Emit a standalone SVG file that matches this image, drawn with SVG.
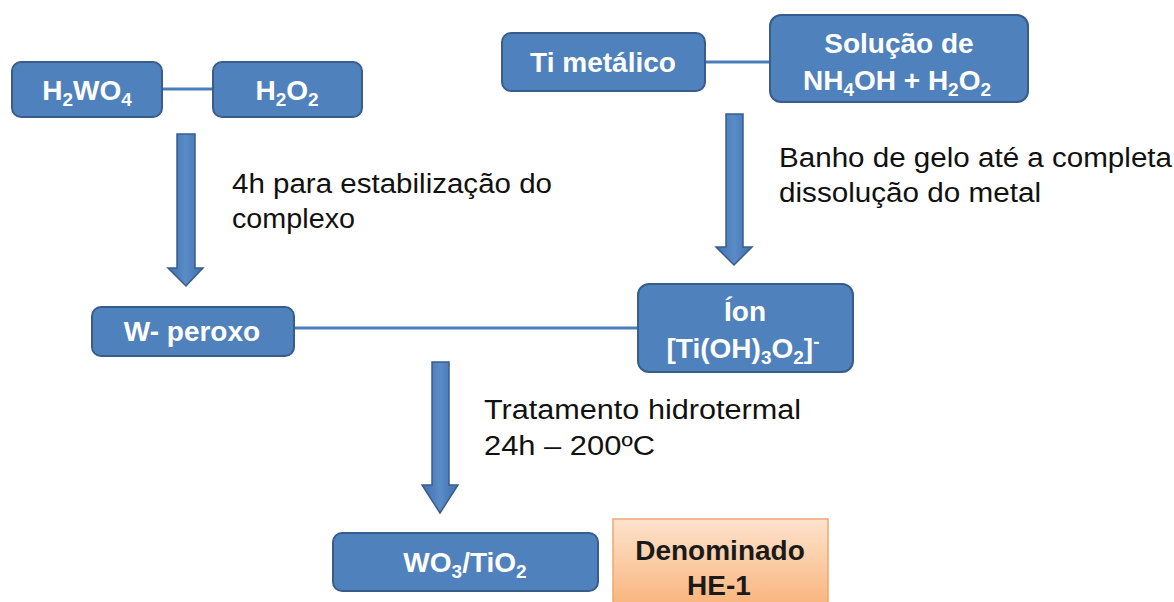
<svg xmlns="http://www.w3.org/2000/svg" width="1174" height="602" viewBox="0 0 1174 602">
<defs>
<linearGradient id="og" x1="0" y1="0" x2="0" y2="1">
<stop offset="0" stop-color="#fde3cd"/>
<stop offset="1" stop-color="#fab37a"/>
</linearGradient>
<linearGradient id="ag" x1="0" y1="0" x2="1" y2="0">
<stop offset="0" stop-color="#3f6fae"/>
<stop offset="0.5" stop-color="#5a8cc8"/>
<stop offset="1" stop-color="#3f6fae"/>
</linearGradient>
</defs>
<style>
.box{fill:#4f81bd;stroke:#385d8a;stroke-width:2}
.bt{font-family:"Liberation Sans",Arial,sans-serif;font-weight:bold;font-size:28px;fill:#ffffff;text-anchor:middle}
.dt{font-family:"Liberation Sans",Arial,sans-serif;font-weight:bold;font-size:28px;fill:#1a1a1a;text-anchor:middle}
.lt{font-family:"Liberation Sans",Arial,sans-serif;font-size:27px;fill:#111111}
.ln{stroke:#4a7ebb;stroke-width:3;fill:none}
.ar{fill:url(#ag);stroke:#385d8a;stroke-width:1.5}
.sb{font-size:19px}
</style>
<rect width="1174" height="602" fill="#ffffff"/>
<g id="connectors">
<line class="ln" x1="162" y1="89" x2="213" y2="89"/>
<line class="ln" x1="705" y1="62" x2="770" y2="62"/>
<line class="ln" x1="294" y1="328" x2="638" y2="328"/>
<polygon class="ar" points="177,134 195,134 195,268 203,268 186,286 168,268 177,268"/>
<polygon class="ar" points="726,114 743,114 743,247 752,247 734,265 716,247 726,247"/>
<polygon class="ar" points="432,362 449,362 449,485 458,485 440,513 422,485 432,485"/>
</g>
<g id="h2wo4">
<rect class="box" x="12" y="62" width="150" height="55" rx="9"/>
<text class="bt" x="87" y="100">H<tspan class="sb" dy="6">2</tspan><tspan dy="-6">WO</tspan><tspan class="sb" dy="6">4</tspan></text>
</g>
<g id="h2o2">
<rect class="box" x="213" y="62" width="149" height="55" rx="9"/>
<text class="bt" x="287" y="100">H<tspan class="sb" dy="6">2</tspan><tspan dy="-6">O</tspan><tspan class="sb" dy="6">2</tspan></text>
</g>
<g id="ti-metalico">
<rect class="box" x="502" y="33" width="203" height="58" rx="9"/>
<text class="bt" x="603" y="72">Ti metálico</text>
</g>
<g id="solucao">
<rect class="box" x="770" y="15" width="258" height="87" rx="11"/>
<text class="bt" x="899" y="53">Solução de</text>
<text class="bt" x="897" y="90">NH<tspan class="sb" dy="6">4</tspan><tspan dy="-6">OH + H</tspan><tspan class="sb" dy="6">2</tspan><tspan dy="-6">O</tspan><tspan class="sb" dy="6">2</tspan></text>
</g>
<g id="w-peroxo">
<rect class="box" x="92" y="307" width="202" height="49" rx="9"/>
<text class="bt" x="192" y="341">W- peroxo</text>
</g>
<g id="ion">
<rect class="box" x="638" y="284" width="215" height="88" rx="11"/>
<text class="bt" x="745" y="321">Íon</text>
<text class="bt" x="743" y="358">[Ti(OH)<tspan class="sb" dy="6">3</tspan><tspan dy="-6">O</tspan><tspan class="sb" dy="6">2</tspan><tspan dy="-6">]</tspan><tspan class="sb" dy="-10">-</tspan></text>
</g>
<g id="wo3-tio2">
<rect class="box" x="333" y="533" width="265" height="58" rx="9"/>
<text class="bt" x="465" y="572">WO<tspan class="sb" dy="6">3</tspan><tspan dy="-6">/TiO</tspan><tspan class="sb" dy="6">2</tspan></text>
</g>
<g id="denominado">
<rect x="613" y="519" width="215" height="90" fill="url(#og)" stroke="#eea872" stroke-width="1.5"/>
<text class="dt" x="720" y="560">Denominado</text>
<text class="dt" x="719" y="595">HE-1</text>
</g>
<g id="labels">
<text class="lt" x="232" y="193" textLength="320" lengthAdjust="spacingAndGlyphs">4h para estabilização do</text>
<text class="lt" x="232" y="228" textLength="123" lengthAdjust="spacingAndGlyphs">complexo</text>
<text class="lt" x="779" y="167" textLength="393" lengthAdjust="spacingAndGlyphs">Banho de gelo até a completa</text>
<text class="lt" x="779" y="202" textLength="262" lengthAdjust="spacingAndGlyphs">dissolução do metal</text>
<text class="lt" x="484" y="419" textLength="317" lengthAdjust="spacingAndGlyphs">Tratamento hidrotermal</text>
<text class="lt" x="484" y="455" textLength="171" lengthAdjust="spacingAndGlyphs">24h – 200ºC</text>
</g>
</svg>
